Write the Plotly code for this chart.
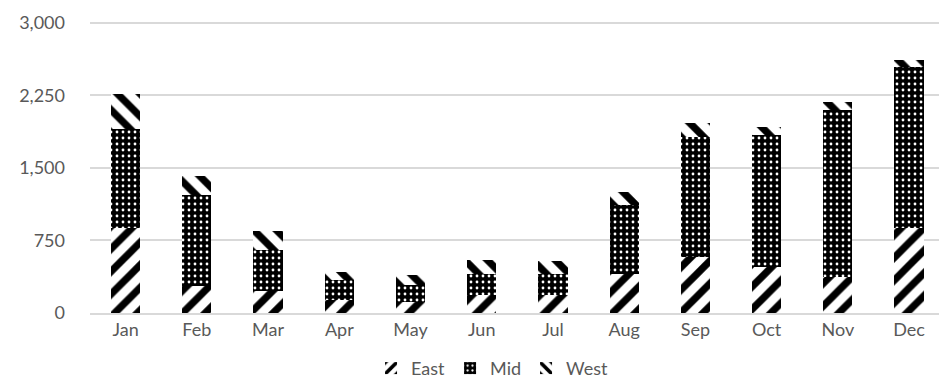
import plotly.graph_objects as go

# Monthly volumes per region (stacked)
months = ["Jan", "Feb", "Mar", "Apr", "May", "Jun",
          "Jul", "Aug", "Sep", "Oct", "Nov", "Dec"]
east = [880, 275, 230, 130, 115, 185, 185, 405, 580, 475, 370, 875]
mid = [1020, 950, 425, 210, 175, 220, 220, 710, 1240, 1365, 1725, 1670]
west = [360, 190, 190, 85, 100, 145, 130, 135, 145, 80, 85, 75]

y_ticks = [0, 750, 1500, 2250, 3000]
y_tick_text = ["0", "750", "1,500", "2,250", "3,000"]

FONT = "Lato, 'Open Sans', sans-serif"
GREY_TEXT = "#595959"
GRID = "#d9d9d9"

fig = go.Figure()

fig.add_trace(go.Bar(
    name="East", x=months, y=east,
    marker=dict(color="white", line=dict(width=0),
                pattern=dict(shape="/", fgcolor="black", bgcolor="white",
                             size=16, solidity=0.45, fillmode="replace")),
))
fig.add_trace(go.Bar(
    name="Mid", x=months, y=mid,
    marker=dict(color="black", line=dict(width=0),
                pattern=dict(shape=".", fgcolor="white", bgcolor="black",
                             size=6, solidity=0.17, fillmode="replace")),
))
fig.add_trace(go.Bar(
    name="West", x=months, y=west,
    marker=dict(color="white", line=dict(width=0),
                pattern=dict(shape="\\", fgcolor="black", bgcolor="white",
                             size=16, solidity=0.45, fillmode="replace")),
))

fig.update_layout(
    barmode="stack",
    bargap=0.59,
    width=939, height=379,
    margin=dict(l=90, r=0, t=21, b=66, autoexpand=False),
    paper_bgcolor="white",
    plot_bgcolor="white",
    font=dict(family=FONT, size=18, color=GREY_TEXT),
    showlegend=True,
    legend=dict(
        orientation="h",
        xref="container", yref="container",
        x=0.524, xanchor="center",
        y=0.028, yanchor="middle",
        font=dict(family=FONT, size=18, color=GREY_TEXT),
        traceorder="normal",
        itemwidth=30,
    ),
    xaxis=dict(
        range=[-0.5, 11.42],
        showgrid=False,
        showline=True, linecolor=GRID, linewidth=1.5,
        ticks="",
        tickfont=dict(family=FONT, size=18, color=GREY_TEXT),
    ),
    yaxis=dict(
        range=[0, 3020],
        tickvals=y_ticks, ticktext=y_tick_text,
        showgrid=True, gridcolor=GRID, gridwidth=1.5,
        zeroline=False,
        showline=False,
        ticks="",
        ticklabelstandoff=24,
        tickfont=dict(family=FONT, size=18, color=GREY_TEXT),
    ),
)

fig.write_html("out.html")
